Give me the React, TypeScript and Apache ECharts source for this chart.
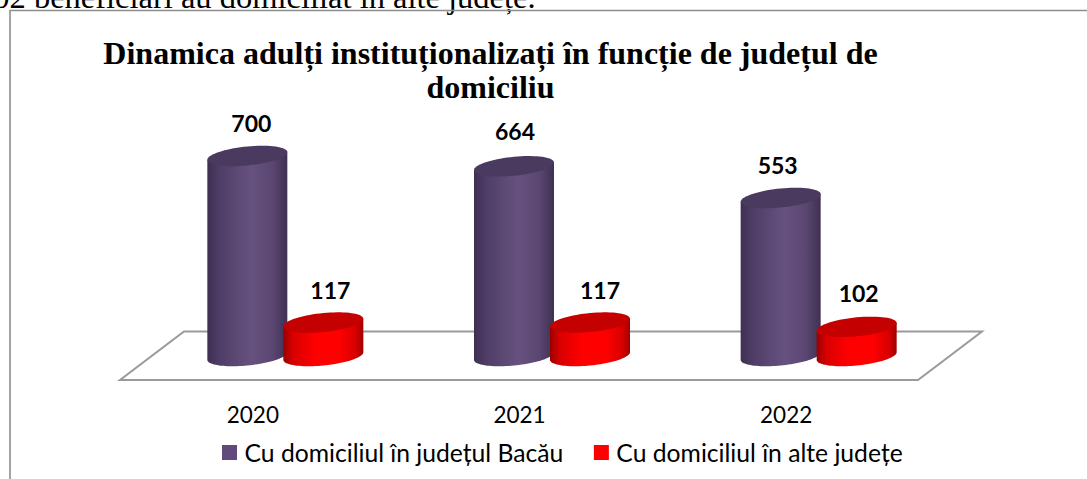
import React, { useEffect, useRef } from "react";
import * as echarts from "echarts";

const years = ["2020", "2021", "2022"];
const bacau = [700, 664, 553];
const alte = [117, 117, 102];
const seriesNames = ["Cu domiciliul în județul Bacău", "Cu domiciliul în alte județe"];
const titleLines = "Dinamica adulți instituționalizați în funcție de județul de\ndomiciliu";
const clippedLine = "102 beneficiari au domiciliat în alte județe.";

const purpleGrad = [
  [0, "#3e2f52"], [0.15, "#4e3d66"], [0.55, "#67527f"], [0.82, "#5a4671"], [1, "#3f3052"],
];
const redGrad = [
  [0, "#9a0000"], [0.12, "#d80000"], [0.4, "#ff0000"], [0.7, "#ff0000"], [0.9, "#d80000"], [1, "#a00000"],
];
const grad = (stops: any[]) => ({
  type: "linear", x: 0, y: 0, x2: 1, y2: 0,
  colorStops: stops.map(([offset, color]) => ({ offset, color })),
});

const A = 40, B = 9.5, K = 3.8;
function arc(cx: number, cy: number, from: number, to: number, n: number) {
  const pts: number[][] = [];
  for (let i = 0; i <= n; i++) {
    const t = from + ((to - from) * i) / n;
    pts.push([cx + A * Math.cos(t), cy + B * Math.sin(t) - K * Math.cos(t)]);
  }
  return pts;
}

function makeRender(dx: number, stops: any[], topColor: string, nudges: number[][]) {
  return (params: any, api: any) => {
    const i = api.value(0);
    const v = api.value(1);
    const top = api.coord([i, v]);
    const base = api.coord([i, 0]);
    const cx = top[0] + dx;
    const body = [[cx - A, top[1] + K], [cx + A, top[1] - K], ...arc(cx, base[1], 0, Math.PI, 48)];
    return {
      type: "group",
      children: [
        { type: "polygon", shape: { points: body }, style: { fill: grad(stops) } },
        { type: "polygon", shape: { points: arc(cx, top[1], 0, Math.PI * 2, 72) }, style: { fill: topColor } },
        {
          type: "text",
          style: {
            x: cx + nudges[i][0], y: top[1] - 33 + nudges[i][1], text: String(v),
            font: "bold 23px Lato", fill: "#000", align: "center", verticalAlign: "middle",
          },
        },
      ],
    };
  };
}

export default function App() {
  const ref = useRef<HTMLDivElement>(null);
  useEffect(() => {
    const chart = echarts.init(ref.current!, null, { renderer: "svg" });
    chart.setOption({
      animation: false,
      backgroundColor: "#fff",
      title: {
        text: titleLines, left: 485.5, textAlign: "center", top: 31,
        textStyle: { fontFamily: "Liberation Serif", fontWeight: "bold", fontSize: 32, lineHeight: 34, color: "#000" },
      },
      legend: {
        left: 217, top: 435, itemWidth: 15, itemHeight: 15, itemGap: 30.5, icon: "rect",
        textStyle: { fontFamily: "Lato", fontSize: 24.7, color: "#000", padding: [0, 0, 4, 2.5] },
        data: seriesNames,
      },
      grid: { left: 119.5, width: 800, top: 127.4, height: 228.6 },
      xAxis: {
        type: "category", data: years, axisLine: { show: false }, axisTick: { show: false },
        axisLabel: { margin: 47, fontFamily: "Lato", fontSize: 22.5, color: "#000" },
      },
      yAxis: { type: "value", min: 0, max: 800, show: false },
      graphic: [
        { type: "text", z: 0, style: { x: -23, y: 13, text: clippedLine, font: "32.5px 'Liberation Serif'", fill: "#000", verticalAlign: "bottom" } },
        { type: "polyline", z: 1, shape: { points: [[10, 479], [10, 10.5], [1087, 10.5]] }, style: { stroke: "#8e8e8e", lineWidth: 1.6, fill: "none" } },
        { type: "polygon", z: 1, shape: { points: [[120, 380], [918, 380], [982, 331.5], [184, 331.5]] }, style: { stroke: "#9a9a9a", lineWidth: 2, fill: "#fff" } },
      ],
      series: [
        { name: seriesNames[0], type: "custom", z: 5, itemStyle: { color: "#604a7b" }, encode: { x: 0, y: 1 },
          data: bacau.map((v, i) => [i, v]), renderItem: makeRender(-5.5, purpleGrad, "#4a3a60", [[4, 0], [1, -2], [-3, 0]]) },
        { name: seriesNames[1], type: "custom", z: 6, itemStyle: { color: "#ff0000" }, encode: { x: 0, y: 1 },
          data: alte.map((v, i) => [i, v]), renderItem: makeRender(70.5, redGrad, "#c40000", [[7, 0], [10, 0], [2, -1]]) },
      ],
    });
    return () => chart.dispose();
  }, []);
  return <div ref={ref} style={{ position: "fixed", left: 0, top: 0, width: 1087, height: 479 }} />;
}
